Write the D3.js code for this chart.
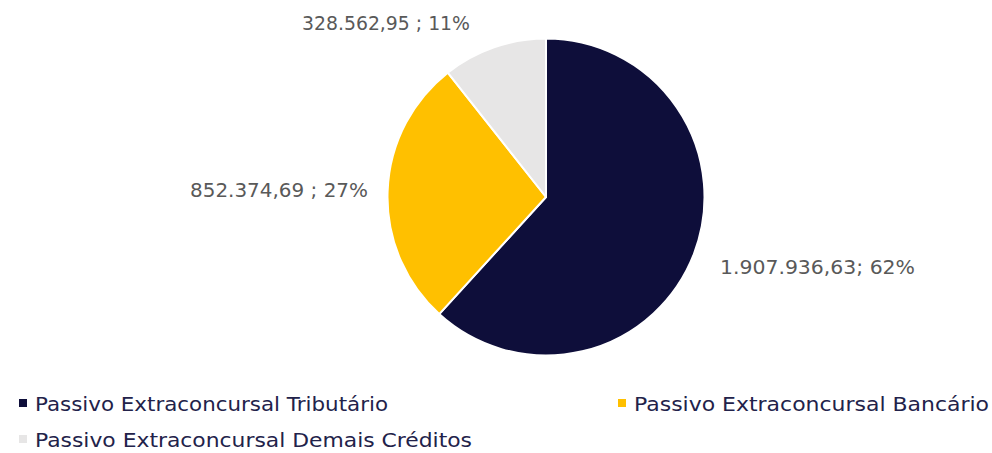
<!DOCTYPE html>
<html><head><meta charset="utf-8">
<script src="https://cdn.jsdelivr.net/npm/d3@7"></script>
<style>body{margin:0;background:#fff}svg{display:block}</style>
</head><body><div id="chart"></div>
<script>
const categories = ["Passivo Extraconcursal Tributário", "Passivo Extraconcursal Bancário", "Passivo Extraconcursal Demais Créditos"];
const values = [1907936.63, 852374.69, 328562.95];
const labels = ["1.907.936,63; 62%", "852.374,69 ; 27%", "328.562,95 ; 11%"];
const colors = ["#0E0E3A", "#FFC000", "#E7E6E6"];

const W = 992, H = 453;
const svg = d3.select("#chart").append("svg").attr("width", W).attr("height", H);
const font = "'DejaVu Sans', sans-serif";

const cx = 546, cy = 197, R = 158.5;
const pie = d3.pie().sort(null).value(d => d)(values);
const arc = d3.arc().innerRadius(0).outerRadius(R);
const g = svg.append("g").attr("transform", `translate(${cx},${cy})`);
g.selectAll("path").data(pie).join("path")
  .attr("d", arc)
  .attr("fill", (d, i) => colors[i])
  .attr("stroke", "#fff").attr("stroke-width", 2).attr("stroke-linejoin", "round");

// label placement (start x, baseline y, width)
const labelBoxes = [[720, 274, 195], [190, 197, 178], [302, 30, 168]];
svg.selectAll("text.lbl").data(labels).join("text").attr("class", "lbl")
  .attr("x", (d, i) => labelBoxes[i][0]).attr("y", (d, i) => labelBoxes[i][1])
  .attr("textLength", (d, i) => labelBoxes[i][2]).attr("lengthAdjust", "spacingAndGlyphs")
  .attr("font-family", font).attr("font-size", 19).attr("fill", "#595959").text(d => d);

// legend
const legendPos = [[19, 411, 353], [618, 411, 355], [19, 447, 437]];
const lg = svg.selectAll("g.leg").data(categories).join("g").attr("class", "leg");
lg.append("rect")
  .attr("x", (d, i) => legendPos[i][0]).attr("y", (d, i) => legendPos[i][1] - 12)
  .attr("width", 8).attr("height", 8).attr("fill", (d, i) => colors[i]);
lg.append("text")
  .attr("x", (d, i) => legendPos[i][0] + 16).attr("y", (d, i) => legendPos[i][1])
  .attr("textLength", (d, i) => legendPos[i][2]).attr("lengthAdjust", "spacingAndGlyphs")
  .attr("font-family", font).attr("font-size", 19).attr("fill", "#22224A").text(d => d);
</script></body></html>
